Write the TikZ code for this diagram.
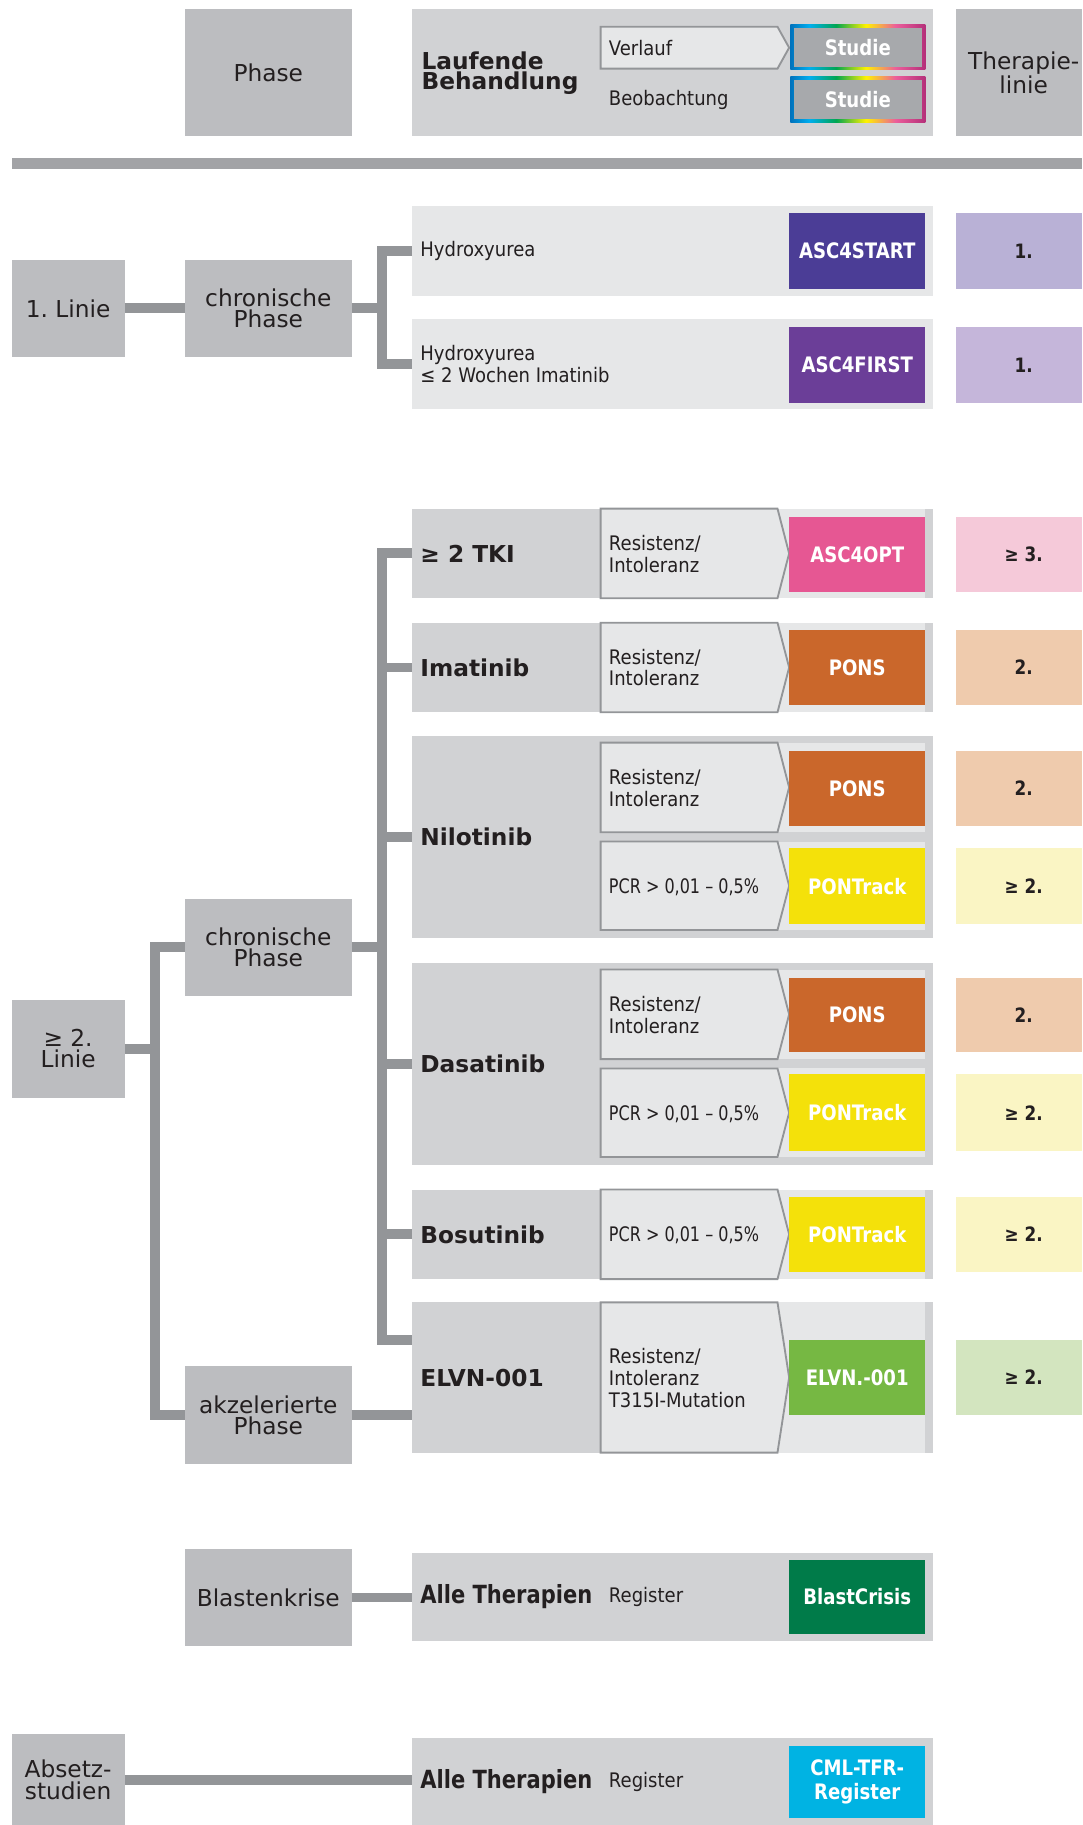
\documentclass[tikz,border=0pt]{standalone}
\usepackage{fontspec}
\setmainfont{DejaVu Sans}
\newfontfamily\condA[FakeStretch=0.9]{DejaVu Sans}
\newfontfamily\condB[FakeStretch=0.85]{DejaVu Sans}
\newfontfamily\condC[FakeStretch=0.84]{DejaVu Sans}
\newfontfamily\condP[FakeStretch=0.8]{DejaVu Sans}
\definecolor{textc}{HTML}{231F20}
\definecolor{phgray}{HTML}{BCBDC0}
\definecolor{rowdark}{HTML}{D1D2D4}
\definecolor{rowlight}{HTML}{E6E7E8}
\definecolor{conngray}{HTML}{939598}
\definecolor{bargray}{HTML}{A2A3A6}
\definecolor{studgray}{HTML}{A7A9AC}
\definecolor{cStart}{HTML}{4B3D96}
\definecolor{cFirst}{HTML}{6B3E98}
\definecolor{cOpt}{HTML}{E65793}
\definecolor{cPons}{HTML}{CA672B}
\definecolor{cTrack}{HTML}{F4E10A}
\definecolor{cElvn}{HTML}{76B843}
\definecolor{cBlast}{HTML}{007B49}
\definecolor{cTfr}{HTML}{00B3E3}
\definecolor{lStart}{HTML}{B9B1D6}
\definecolor{lFirst}{HTML}{C5B6DA}
\definecolor{lOpt}{HTML}{F5C9D9}
\definecolor{lPons}{HTML}{EFCBAD}
\definecolor{lTrack}{HTML}{FAF5C4}
\definecolor{lElvn}{HTML}{D3E5BF}
\definecolor{rbA}{HTML}{0072BC}
\definecolor{rbB}{HTML}{00AEEF}
\definecolor{rbC}{HTML}{00A651}
\definecolor{rbD}{HTML}{FFF200}
\definecolor{rbE}{HTML}{EC5E9B}
\definecolor{rbF}{HTML}{B5307A}
\pgfdeclarehorizontalshading{rainbowsh}{100bp}{color(0bp)=(rbA); color(25bp)=(rbA); color(32bp)=(rbB); color(42bp)=(rbC); color(53bp)=(rbD); color(64bp)=(rbE); color(75bp)=(rbF); color(100bp)=(rbF)}
\newcommand\mybox[7][]{\node[#1,anchor=north west,inner sep=0pt,outer sep=0pt,minimum width={(#5-#3)*1pt},minimum height={(#6-#4)*1pt}] (#2) at (#3,#4) {#7};}
\newcommand\rsh{\hspace*{8pt}}
\tikzset{
  conn/.style={draw=conngray, line width=8.5pt, line cap=butt, line join=miter},
  chev/.style={draw=conngray, fill=rowlight, line width=1.6pt, line join=miter},
  phbox/.style={fill=phgray, align=center, font=\fontsize{20}{18.5}\selectfont},
  rowd/.style={fill=rowdark},
  rowl/.style={fill=rowlight},
  tagbox/.style={text=white, align=center, font=\condB\bfseries\fontsize{18.3}{20}\selectfont},
  linebox/.style={font=\condB\bfseries\fontsize{17}{18}\selectfont},
  drug/.style={anchor=west, inner sep=0pt, font=\bfseries\fontsize{20}{18}\selectfont},
  note/.style={anchor=west, inner sep=0pt, align=left, font=\condA\fontsize{17.2}{18.7}\selectfont},
  pcr/.style={anchor=west, inner sep=0pt, font=\condP\fontsize{17.2}{18.7}\selectfont},
  alle/.style={anchor=west, inner sep=0pt, font=\condC\bfseries\fontsize{21.5}{20}\selectfont},
  studie/.style={tagbox, shade, shading=rainbowsh,
    path picture={\fill[studgray] ([shift={(2.8pt,-2.8pt)}]path picture bounding box.north west) rectangle ([shift={(-2.8pt,2.8pt)}]path picture bounding box.south east);}},
}
\begin{document}
\begin{tikzpicture}[x=1pt,y=-1pt,text=textc]
\useasboundingbox (0,0) rectangle (930,1568);
% ---------- header ----------
\mybox[phbox]{ph}{159}{8}{302}{117}{Phase}
\mybox[rowd]{lauf}{354}{8}{802}{117}{}
\mybox[phbox]{tl}{821}{8}{930}{117}{\rsh Therapie-\\\rsh linie}
\fill[bargray] (10,136) rectangle (930,145);
\node[drug, align=left, font=\bfseries\fontsize{20}{17.5}\selectfont] (laufT) at (362,63) {Laufende\\Behandlung};
\draw[chev] (516,23) -- (668,23) -- (678,41) -- (668,59) -- (516,59) -- cycle;
\node[note] (verl) at (523,41) {Verlauf};
\node[note] (beob) at (523,86) {Beobachtung};
\mybox[studie]{st1}{679}{21}{795}{60}{Studie}
\mybox[studie]{st2}{679}{66}{795}{105}{Studie}
% ---------- 1. Linie ----------
\mybox[phbox]{l1}{10}{223}{107}{307}{1.\ Linie}
\mybox[phbox]{cp1}{159}{223}{302}{307}{chronische\\Phase}
\mybox[rowl]{hyd1}{354}{177}{802}{254}{}
\mybox[rowl]{hyd2}{354}{274}{802}{351}{}
\node[note] (hyd1t) at (361,215.5) {Hydroxyurea};
\node[note] (hyd2t) at (361,313) {Hydroxyurea\\≤ 2 Wochen Imatinib};
\mybox[tagbox,fill=cStart]{start}{678}{183}{795}{248}{ASC4START}
\mybox[tagbox,fill=cFirst]{first}{678}{281}{795}{346}{ASC4FIRST}
\mybox[linebox,fill=lStart]{r1}{821}{183}{930}{248}{\rsh 1.}
\mybox[linebox,fill=lFirst]{r2}{821}{281}{930}{346}{\rsh 1.}
\coordinate (barA) at (328,265);
\draw[conn] (l1.east) -- (cp1.west);
\draw[conn] (cp1.east) -- (barA);
\draw[conn] (hyd1.west) -- (hyd1.west -| barA) -- (hyd2.west -| barA) -- (hyd2.west);
% ---------- >= 2. Linie ----------
\mybox[phbox]{l2}{10}{859}{107}{943}{≥ 2.\\Linie}
\mybox[phbox]{cp2}{159}{772}{302}{856}{chronische\\Phase}
\mybox[phbox]{ap}{159}{1174}{302}{1258}{akzelerierte\\Phase}
% >= 2 TKI
\mybox[rowd]{tki}{354}{437}{802}{514}{}
\mybox[rowl]{tkip}{516}{437}{795}{514}{}
\draw[chev] (516,437) -- (668,437) -- (678,475.5) -- (668,514) -- (516,514) -- cycle;
\node[drug] (tkiT) at (361,476) {≥ 2 TKI};
\node[note] (tkiN) at (523,476) {Resistenz/\\Intoleranz};
\mybox[tagbox,fill=cOpt]{opt}{678}{444}{795}{509}{ASC4OPT}
\mybox[linebox,fill=lOpt]{r3}{821}{444}{930}{509}{\rsh ≥ 3.}
% Imatinib
\mybox[rowd]{imat}{354}{535}{802}{612}{}
\mybox[rowl]{imatp}{516}{535}{795}{612}{}
\draw[chev] (516,535) -- (668,535) -- (678,573.5) -- (668,612) -- (516,612) -- cycle;
\node[drug] (imatT) at (361,573.5) {Imatinib};
\node[note] (imatN) at (523,573.5) {Resistenz/\\Intoleranz};
\mybox[tagbox,fill=cPons]{imatA}{678}{541}{795}{606}{PONS}
\mybox[linebox,fill=lPons]{r4}{821}{541}{930}{606}{\rsh 2.}
% Nilotinib
\mybox[rowd]{nilo}{354}{632}{802}{806}{}
\mybox[rowl]{nilop1}{516}{638}{795}{715}{}
\mybox[rowl]{nilop2}{516}{723}{795}{799}{}
\draw[chev] (516,638) -- (668,638) -- (678,676.5) -- (668,715) -- (516,715) -- cycle;
\draw[chev] (516,723) -- (668,723) -- (678,761) -- (668,799) -- (516,799) -- cycle;
\node[drug] (niloT) at (361,719) {Nilotinib};
\node[note] (niloN1) at (523,677) {Resistenz/\\Intoleranz};
\node[pcr] (niloN2) at (523,762) {PCR > 0,01 – 0,5\%};
\mybox[tagbox,fill=cPons]{niloA}{678}{645}{795}{710}{PONS}
\mybox[tagbox,fill=cTrack]{niloB}{678}{729}{795}{794}{PONTrack}
\mybox[linebox,fill=lPons]{r5}{821}{645}{930}{710}{\rsh 2.}
\mybox[linebox,fill=lTrack]{r6}{821}{729}{930}{794}{\rsh ≥ 2.}
% Dasatinib
\mybox[rowd]{dasa}{354}{827}{802}{1001}{}
\mybox[rowl]{dasap1}{516}{833}{795}{910}{}
\mybox[rowl]{dasap2}{516}{918}{795}{994}{}
\draw[chev] (516,833) -- (668,833) -- (678,871.5) -- (668,910) -- (516,910) -- cycle;
\draw[chev] (516,918) -- (668,918) -- (678,956) -- (668,994) -- (516,994) -- cycle;
\node[drug] (dasaT) at (361,914) {Dasatinib};
\node[note] (dasaN1) at (523,872) {Resistenz/\\Intoleranz};
\node[pcr] (dasaN2) at (523,957) {PCR > 0,01 – 0,5\%};
\mybox[tagbox,fill=cPons]{dasaA}{678}{840}{795}{904}{PONS}
\mybox[tagbox,fill=cTrack]{dasaB}{678}{923}{795}{989}{PONTrack}
\mybox[linebox,fill=lPons]{r7}{821}{840}{930}{904}{\rsh 2.}
\mybox[linebox,fill=lTrack]{r8}{821}{923}{930}{989}{\rsh ≥ 2.}
% Bosutinib
\mybox[rowd]{bosu}{354}{1022}{802}{1099}{}
\mybox[rowl]{bosup}{516}{1022}{795}{1099}{}
\draw[chev] (516,1022) -- (668,1022) -- (678,1060.5) -- (668,1099) -- (516,1099) -- cycle;
\node[drug] (bosuT) at (361,1060.5) {Bosutinib};
\node[pcr] (bosuN) at (523,1061) {PCR > 0,01 – 0,5\%};
\mybox[tagbox,fill=cTrack]{bosuA}{678}{1028}{795}{1093}{PONTrack}
\mybox[linebox,fill=lTrack]{r9}{821}{1028}{930}{1093}{\rsh ≥ 2.}
% ELVN-001
\mybox[rowd]{elvn}{354}{1119}{802}{1248}{}
\mybox[rowl]{elvnp}{516}{1119}{795}{1248}{}
\draw[chev] (516,1119) -- (668,1119) -- (678,1183.5) -- (668,1248) -- (516,1248) -- cycle;
\node[drug] (elvnT) at (361,1184) {ELVN-001};
\node[note] (elvnN) at (523,1184) {Resistenz/\\Intoleranz\\T315I-Mutation};
\mybox[tagbox,fill=cElvn]{elvnA}{678}{1151}{795}{1216}{ELVN.-001}
\mybox[linebox,fill=lElvn]{r10}{821}{1151}{930}{1216}{\rsh ≥ 2.}
% connectors of the >= 2. Linie tree
\coordinate (barL) at (133,901);
\coordinate (barB) at (328,814);
\coordinate (elvnTop) at (354,1151);
\draw[conn] (l2.east) -- (barL);
\draw[conn] (cp2.west) -- (cp2.west -| barL) -- (ap.west -| barL) -- (ap.west);
\draw[conn] (cp2.east) -- (barB);
\draw[conn] (tki.west) -- (tki.west -| barB) -- (elvnTop -| barB) -- (elvnTop);
\draw[conn] (imat.west) -- (imat.west -| barB);
\draw[conn] (nilo.west) -- (nilo.west -| barB);
\draw[conn] (dasa.west) -- (dasa.west -| barB);
\draw[conn] (bosu.west) -- (bosu.west -| barB);
\draw[conn] (ap.east) -- (ap.east -| elvn.west);
% ---------- Blastenkrise ----------
\mybox[phbox]{bk}{159}{1331}{302}{1414}{Blastenkrise}
\mybox[rowd]{blast}{354}{1334}{802}{1410}{}
\draw[conn] (bk.east) -- (bk.east -| blast.west);
\node[alle] (blastT) at (361,1372) {Alle Therapien};
\node[note] (blastR) at (523,1372) {Register};
\mybox[tagbox,fill=cBlast]{bc}{678}{1340}{795}{1404}{BlastCrisis}
% ---------- Absetzstudien ----------
\mybox[phbox]{abs}{10}{1490}{107}{1568}{Absetz-\\studien}
\mybox[rowd]{absrow}{354}{1493}{802}{1568}{}
\draw[conn] (abs.east) -- (abs.east -| absrow.west);
\node[alle] (absT) at (361,1531) {Alle Therapien};
\node[note] (absR) at (523,1531) {Register};
\mybox[tagbox,fill=cTfr]{tfr}{678}{1500}{795}{1562}{CML-TFR-\\Register}
\end{tikzpicture}
\end{document}
